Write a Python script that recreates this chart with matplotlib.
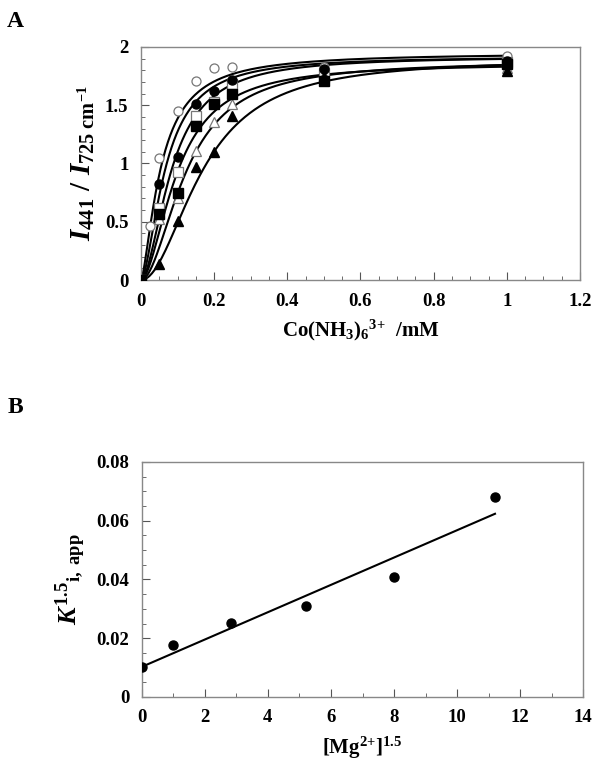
import numpy as np
import matplotlib
matplotlib.use("Agg")
import matplotlib.pyplot as plt
from matplotlib.ticker import MultipleLocator

plt.rcParams['font.family'] = 'Liberation Serif'
plt.rcParams['font.weight'] = 'bold'
plt.rcParams['mathtext.fontset'] = 'custom'
plt.rcParams['mathtext.rm'] = 'Liberation Serif:bold'
plt.rcParams['mathtext.it'] = 'Liberation Serif:bold:italic'
plt.rcParams['mathtext.bf'] = 'Liberation Serif:bold'

# Panel A: titration data, Co(NH3)6 3+ in mM
conc = [0, 0.05, 0.1, 0.15, 0.2, 0.25, 0.5, 1.0]
conc_oc = [0, 0.025, 0.05, 0.1, 0.15, 0.2, 0.25, 0.5, 1.0]
ratio_open_circle = [0, 0.46, 1.05, 1.45, 1.71, 1.82, 1.83, 1.83, 1.92]
ratio_filled_circle = [0, 0.82, 1.06, 1.51, 1.62, 1.72, 1.81, 1.88]
ratio_open_square = [0, 0.62, 0.93, 1.41, 1.53, 1.68, 1.78, 1.87]
ratio_filled_square = [0, 0.57, 0.75, 1.32, 1.51, 1.60, 1.71, 1.85]
ratio_open_triangle = [0, 0.52, 0.70, 1.11, 1.36, 1.51, 1.76, 1.82]
ratio_filled_triangle = [0, 0.14, 0.51, 0.97, 1.10, 1.41, 1.74, 1.79]

# Hill fit parameters (K, n, Ymax) for each curve
hill_K = [0.055, 0.067, 0.085, 0.10, 0.125, 0.17]
hill_n = [1.5, 1.7, 1.8, 1.8, 1.9, 2.0]
hill_ymax = [1.95, 1.92, 1.92, 1.86, 1.88, 1.90]

# Panel B
mg15 = [0, 0.98, 2.83, 5.2, 8.0, 11.2]
kapp = [0.0101, 0.0177, 0.0251, 0.031, 0.0409, 0.068]

fig = plt.figure(figsize=(6.01, 7.64), dpi=100)

# ---- Panel A
ax = fig.add_axes([0.2346, 0.6335, 0.7304, 0.305])
xs = np.linspace(0, 1.0, 300)
for K, n, ym in zip(hill_K, hill_n, hill_ymax):
    ax.plot(xs, ym * xs**n / (K**n + xs**n), color='black', lw=1.5, zorder=2)

ms = 6.5
ax.plot(conc_oc, ratio_open_circle, 'o', mfc='white', mec='#777777', mew=0.9, ms=ms, zorder=3)
ax.plot(conc, ratio_open_square, 's', mfc='white', mec='#777777', mew=0.9, ms=ms, zorder=3)
ax.plot(conc, ratio_open_triangle, '^', mfc='white', mec='#777777', mew=0.9, ms=ms, zorder=3)
ax.plot(conc, ratio_filled_circle, 'o', color='black', ms=ms, zorder=4)
ax.plot(conc, ratio_filled_square, 's', color='black', ms=ms, zorder=4)
ax.plot(conc, ratio_filled_triangle, '^', color='black', ms=ms, zorder=4)

ax.set_xlim(0, 1.2)
ax.set_ylim(0, 2)
ax.xaxis.set_major_locator(MultipleLocator(0.2))
ax.xaxis.set_minor_locator(MultipleLocator(0.05))
ax.yaxis.set_major_locator(MultipleLocator(0.5))
ax.yaxis.set_minor_locator(MultipleLocator(0.1))
ax.set_xticks([0, 0.2, 0.4, 0.6, 0.8, 1.0, 1.2])
ax.set_xticklabels(['0', '0.2', '0.4', '0.6', '0.8', '1', '1.2'])
ax.set_yticks([0, 0.5, 1, 1.5, 2])
ax.set_yticklabels(['0', '0.5', '1', '1.5', '2'])
ax.set_xlabel(r'Co(NH$_3$)$_6$$^{3{+}}$  /mM', fontsize=15, fontweight='bold', labelpad=6)
ax.set_ylabel(r'$I_{441}\ /\ I_{725\ \mathrm{cm}^{{-}1}}$', fontsize=21, labelpad=6)

# ---- Panel B
bx = fig.add_axes([0.2358, 0.0877, 0.7348, 0.3076])
slope, icept = np.polyfit(mg15, kapp, 1)
xl = np.array([0, mg15[-1]])
bx.plot(xl, icept + slope * xl, color='black', lw=1.5, zorder=2)
bx.plot(mg15, kapp, 'o', color='black', ms=ms, zorder=3)
bx.set_xlim(0, 14)
bx.set_ylim(0, 0.08)
bx.xaxis.set_major_locator(MultipleLocator(2))
bx.xaxis.set_minor_locator(MultipleLocator(1))
bx.yaxis.set_major_locator(MultipleLocator(0.02))
bx.yaxis.set_minor_locator(MultipleLocator(0.005))
bx.set_yticks([0, 0.02, 0.04, 0.06, 0.08])
bx.set_yticklabels(['0', '0.02', '0.04', '0.06', '0.08'])
bx.set_xlabel(r'[Mg$^{2{+}}$]$^{1.5}$', fontsize=15, fontweight='bold', labelpad=6)
bx.set_ylabel(r'$K^{\mathit{1.5}}{}_{\mathrm{i,\ app}}$', fontsize=19, labelpad=6)

for a in (ax, bx):
    for s in a.spines.values():
        s.set_color('#888888')
        s.set_linewidth(1.0)
    a.tick_params(which='both', direction='in', top=False, right=False,
                  color='#555555', labelsize=13.5, pad=9)
    a.tick_params(which='major', length=6)
    a.tick_params(which='minor', length=3)
    for lab in a.get_xticklabels() + a.get_yticklabels():
        lab.set_fontweight('bold')

fig.text(0.012, 0.972, 'A', fontsize=17, fontweight='bold', va='center')
fig.text(0.012, 0.466, 'B', fontsize=17, fontweight='bold', va='center')

fig.savefig('out.png', dpi=100)
